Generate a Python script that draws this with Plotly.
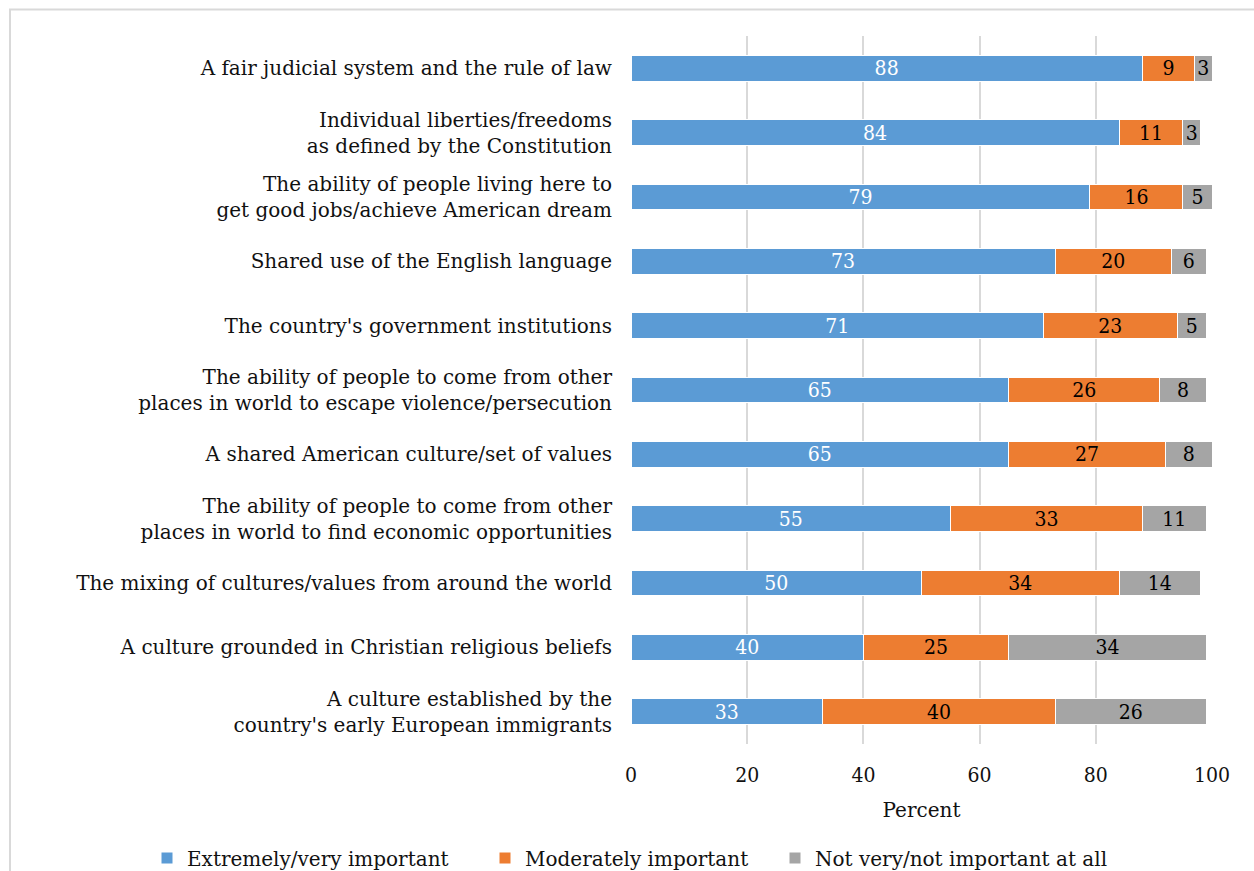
import plotly.graph_objects as go

categories = [
    "A fair judicial system and the rule of law",
    "Individual liberties/freedoms<br>as defined by the Constitution",
    "The ability of people living here to<br>get good jobs/achieve American dream",
    "Shared use of the English language",
    "The country's government institutions",
    "The ability of people to come from other<br>places in world to escape violence/persecution",
    "A shared American culture/set of values",
    "The ability of people to come from other<br>places in world to find economic opportunities",
    "The mixing of cultures/values from around the world",
    "A culture grounded in Christian religious beliefs",
    "A culture established by the<br>country's early European immigrants",
]
extremely = [88, 84, 79, 73, 71, 65, 65, 55, 50, 40, 33]
moderately = [9, 11, 16, 20, 23, 26, 27, 33, 34, 25, 40]
not_important = [3, 3, 5, 6, 5, 8, 8, 11, 14, 34, 26]

series = [
    ("Extremely/very important", extremely, "#5B9BD5", "white", "legend", 147),
    ("Moderately important", moderately, "#ED7D31", "black", "legend2", 485),
    ("Not very/not important at all", not_important, "#A5A5A5", "black", "legend3", 775),
]

FONT = "DejaVu Serif"
FONT_NUM = "DejaVu Serif Condensed"

W, H = 1254, 871
L, R, T, B = 631, 42, 36, 127
pw, ph = W - L - R, H - T - B

def px_x(p):
    return (p - L) / pw

def px_y(p):
    return (H - B - p) / ph

fig = go.Figure()
legends = {}
for name, vals, color, txtcolor, leg, left in series:
    fig.add_trace(go.Bar(
        y=categories, x=vals, name=name, orientation="h", legend=leg,
        marker=dict(color=color, line=dict(color="white", width=1)),
        text=[str(v) for v in vals], textposition="inside",
        insidetextanchor="middle", textangle=0,
        textfont=dict(color=txtcolor, size=21, family=FONT_NUM),
        hoverinfo="skip",
    ))
    legends[leg] = dict(
        orientation="h", x=px_x(left), xanchor="left",
        y=px_y(858), yanchor="middle",
        font=dict(size=20, family=FONT), itemwidth=30,
        bgcolor="rgba(0,0,0,0)",
    )

fig.update_layout(
    width=W, height=H,
    margin=dict(l=L, r=R, t=T, b=B, autoexpand=False),
    barmode="stack", bargap=0.6,
    plot_bgcolor="white", paper_bgcolor="white",
    font=dict(family=FONT, size=20, color="#111111"),
    uniformtext=dict(minsize=21, mode="show"),
    showlegend=True,
    xaxis=dict(
        range=[0, 100], dtick=20, showgrid=True, gridcolor="#d9d9d9", gridwidth=2,
        zeroline=False, showline=False, ticks="", ticklabelstandoff=16,
        tickfont=dict(size=21, family=FONT_NUM),
        title=dict(text="Percent", font=dict(size=20, family=FONT), standoff=16),
        fixedrange=True,
    ),
    yaxis=dict(
        autorange="reversed", showgrid=False, zeroline=False, showline=False,
        ticks="", ticklabelstandoff=18, tickfont=dict(size=20), fixedrange=True,
    ),
    shapes=[dict(
        type="rect", xref="paper", yref="paper",
        x0=px_x(10), x1=px_x(1265), y0=px_y(880), y1=px_y(9.5),
        line=dict(color="#d9d9d9", width=2), fillcolor="rgba(0,0,0,0)", layer="below",
    )],
    **legends,
)

fig.write_html("out.html")
